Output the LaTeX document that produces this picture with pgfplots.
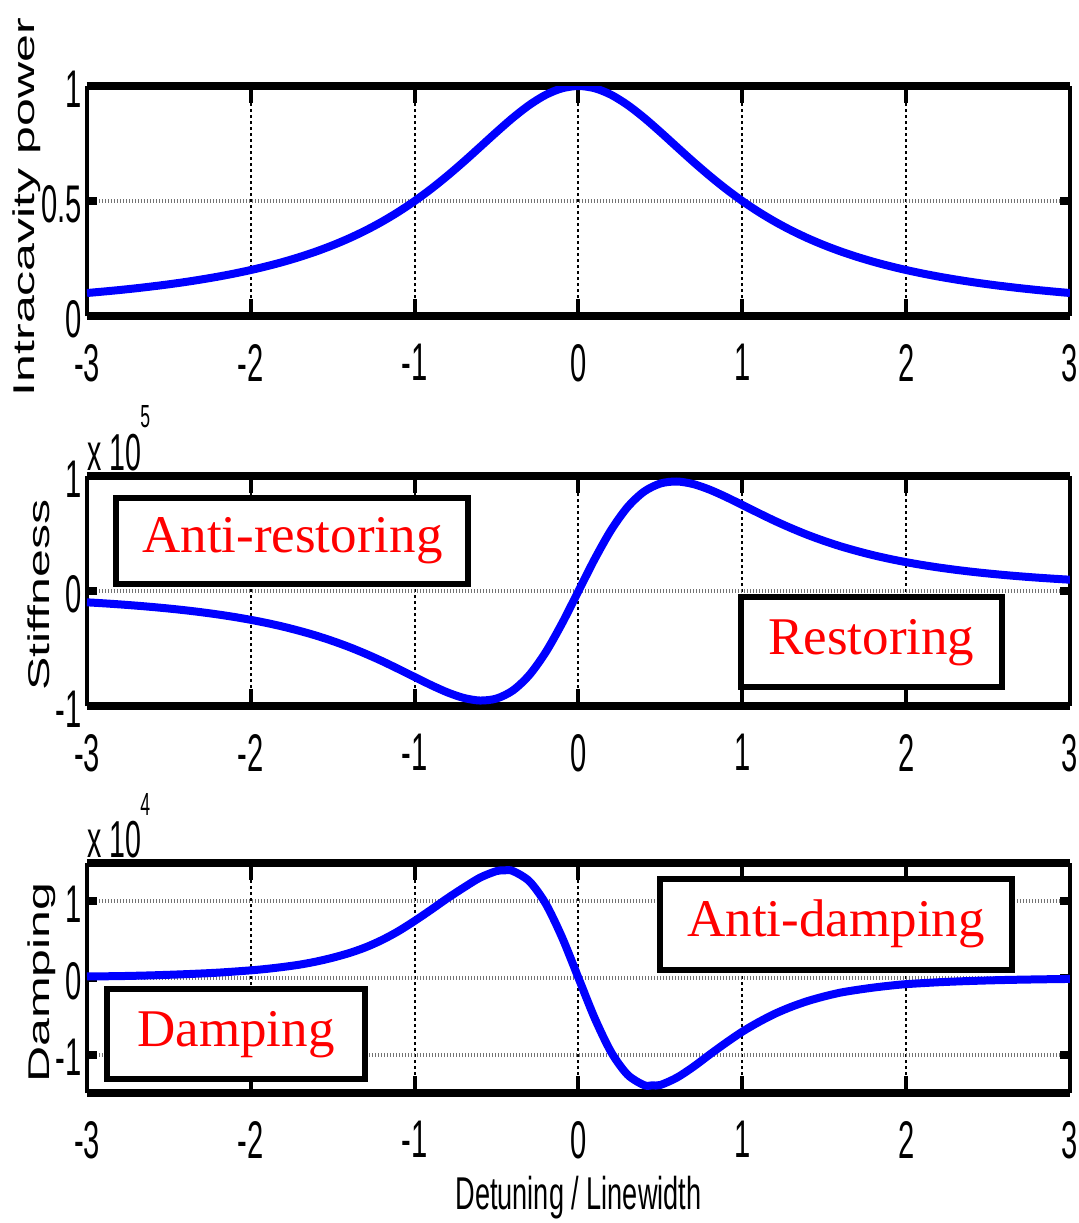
\documentclass[border=0pt]{standalone}
\usepackage{fontspec}
\setmainfont{Liberation Sans}
\usepackage{pgfplots}
\pgfplotsset{compat=1.18}
\newfontfamily\tickfont[FakeStretch=0.55]{Liberation Sans}
\newfontfamily\ylabfont[FakeStretch=1.67]{Liberation Sans}
\newfontfamily\xlabfont[FakeStretch=0.59]{Liberation Sans}
\newfontfamily\boxfont{Liberation Serif}
\definecolor{pureblue}{RGB}{0,0,255}
\definecolor{purered}{RGB}{255,0,0}

\pgfplotsset{
  myaxis/.style={
    scale only axis, width=491.5pt, height=115pt,
    xmin=-3, xmax=3,
    xtick={-3,-2,-1,0,1,2,3}, xticklabels={-3,-2,-1,0,1,2,3},
    separate axis lines,
    x axis line style={line width=4pt},
    y axis line style={line width=2pt},
    tick align=inside, xtick pos=both, ytick pos=both,
    major tick length=5pt,
    xtick style={line width=2pt, black, /pgfplots/major tick length=8.5pt},
    ytick style={line width=4pt, black},
    xmajorgrids, ymajorgrids,
    x grid style={black, line width=1pt, dash pattern=on 1.5pt off 1.5pt},
    y grid style={black!55, line width=2pt, dash pattern=on 0.6pt off 0.9pt},
    xticklabel style={font=\tickfont\fontsize{26.5}{26.5}\selectfont, anchor=north, inner sep=0pt, yshift=-14pt},
    yticklabel style={font=\tickfont\fontsize{26.5}{26.5}\selectfont, anchor=east, inner sep=0pt, xshift=-2.5pt, yshift=-1.5pt},
  },
  curve/.style={pureblue, line width=4pt, mark=none, smooth, line join=round},
}
\tikzset{
  tbox/.style={draw=black, line width=3pt, fill=white, text=purered, inner sep=0pt,
    font=\boxfont\fontsize{26.5}{26.5}\selectfont},
}

\begin{document}
\begin{tikzpicture}
\useasboundingbox (-43.5pt,43pt) rectangle (496pt,-568.5pt);

% ---------- Intracavity power ----------
\begin{axis}[myaxis, name=ax1, at={(0,0)}, anchor=north west,
  ymin=0, ymax=1, ytick={0,0.5,1}, yticklabels={0,0.5,1}]
\addplot[curve] coordinates {
(-3,0.1)(-2.9,0.1063)(-2.8,0.1131)(-2.7,0.1206)(-2.6,0.1289)(-2.5,0.1379)(-2.4,0.1479)(-2.3,0.1590)(-2.2,0.1712)(-2.1,0.1848)
(-2,0.2)(-1.9,0.2169)(-1.8,0.2358)(-1.7,0.2571)(-1.6,0.2809)(-1.5,0.3077)(-1.4,0.3378)(-1.3,0.3717)(-1.2,0.4098)(-1.1,0.4525)
(-1,0.5)(-0.9,0.5525)(-0.8,0.6098)(-0.7,0.6711)(-0.6,0.7353)(-0.5,0.8)(-0.4,0.8621)(-0.3,0.9174)(-0.2,0.9615)(-0.1,0.9901)
(0,1)
(0.1,0.9901)(0.2,0.9615)(0.3,0.9174)(0.4,0.8621)(0.5,0.8)(0.6,0.7353)(0.7,0.6711)(0.8,0.6098)(0.9,0.5525)(1,0.5)
(1.1,0.4525)(1.2,0.4098)(1.3,0.3717)(1.4,0.3378)(1.5,0.3077)(1.6,0.2809)(1.7,0.2571)(1.8,0.2358)(1.9,0.2169)(2,0.2)
(2.1,0.1848)(2.2,0.1712)(2.3,0.1590)(2.4,0.1479)(2.5,0.1379)(2.6,0.1289)(2.7,0.1206)(2.8,0.1131)(2.9,0.1063)(3,0.1)
};
\end{axis}

% ---------- Stiffness ----------
\begin{axis}[myaxis, name=ax2, at={(0,-195pt)}, anchor=north west,
  ymin=-1, ymax=1, ytick={-1,0,1}, yticklabels={-1,0,1}]
\addplot[curve] coordinates {
(-3,-0.0983)(-2.9,-0.1069)(-2.8,-0.1164)(-2.7,-0.1271)(-2.6,-0.1391)(-2.5,-0.1525)(-2.4,-0.1676)(-2.3,-0.1848)(-2.2,-0.2041)(-2.1,-0.2260)
(-2,-0.2508)(-1.9,-0.2790)(-1.8,-0.3110)(-1.7,-0.3476)(-1.6,-0.3884)(-1.5,-0.4351)(-1.4,-0.4870)(-1.3,-0.5454)(-1.2,-0.6087)(-1.1,-0.6774)
(-1,-0.7481)(-0.9,-0.8181)(-0.8,-0.8815)(-0.7,-0.9300)(-0.6,-0.9523)(-0.5,-0.9348)(-0.4,-0.8643)(-0.3,-0.7304)(-0.2,-0.5322)(-0.1,-0.2808)
(0,0)
(0.1,0.2808)(0.2,0.5322)(0.3,0.7304)(0.4,0.8643)(0.5,0.9348)(0.6,0.9523)(0.7,0.9300)(0.8,0.8815)(0.9,0.8181)(1,0.7481)
(1.1,0.6774)(1.2,0.6087)(1.3,0.5454)(1.4,0.4870)(1.5,0.4351)(1.6,0.3884)(1.7,0.3476)(1.8,0.3110)(1.9,0.2790)(2,0.2508)
(2.1,0.2260)(2.2,0.2041)(2.3,0.1848)(2.4,0.1676)(2.5,0.1525)(2.6,0.1391)(2.7,0.1271)(2.8,0.1164)(2.9,0.1069)(3,0.0983)
};
\coordinate (ar) at (axis cs:-1.746,0.434);
\coordinate (re) at (axis cs:1.788,-0.447);
\end{axis}

% ---------- Damping ----------
\begin{axis}[myaxis, name=ax3, at={(0,-388.5pt)}, anchor=north west,
  ymin=-1.5, ymax=1.5, ytick={-1,0,1}, yticklabels={-1,0,1}]
\addplot[curve] coordinates {
(-3,0.02)(-2.8,0.025)(-2.6,0.035)(-2.4,0.05)(-2.2,0.07)(-2,0.10)(-1.9,0.12)(-1.8,0.145)(-1.7,0.175)(-1.6,0.215)
(-1.5,0.265)(-1.4,0.325)(-1.3,0.40)(-1.2,0.495)(-1.1,0.61)(-1,0.745)(-0.9,0.89)(-0.8,1.04)(-0.7,1.18)(-0.6,1.31)
(-0.5,1.395)(-0.45,1.405)(-0.4,1.395)(-0.3,1.262)(-0.2,0.969)(-0.1,0.529)(0,0)
(0.1,-0.529)(0.2,-0.969)(0.3,-1.262)(0.4,-1.397)(0.45,-1.40)(0.5,-1.395)(0.6,-1.30)(0.7,-1.16)(0.8,-1.00)(0.9,-0.845)
(1,-0.70)(1.1,-0.575)(1.2,-0.465)(1.3,-0.375)(1.4,-0.30)(1.5,-0.24)(1.6,-0.19)(1.7,-0.155)(1.8,-0.125)(1.9,-0.10)
(2,-0.08)(2.2,-0.055)(2.4,-0.038)(2.6,-0.026)(2.8,-0.018)(3,-0.012)
};
\coordinate (dm) at (axis cs:-2.091,-0.734);
\coordinate (ad) at (axis cs:1.572,0.701);
\end{axis}

% text boxes
\node[tbox, minimum width=176pt, minimum height=43pt] at (ar) {Anti-restoring};
\node[tbox, minimum width=130.5pt, minimum height=45pt] at (re) {Restoring};
\node[tbox, minimum width=129pt, minimum height=45pt] at (dm) {Damping};
\node[tbox, minimum width=176pt, minimum height=45.5pt] at (ad) {Anti-damping};

% y labels
\node[rotate=90, anchor=base, inner sep=0pt, font=\ylabfont\fontsize{15}{15}\selectfont] at ([xshift=-26pt, yshift=-3pt]ax1.west) {Intracavity power};
\node[rotate=90, anchor=base, inner sep=0pt, font=\ylabfont\fontsize{15}{15}\selectfont] at ([xshift=-18.5pt, yshift=-2pt]ax2.west) {Stiffness};
\node[rotate=90, anchor=base, inner sep=0pt, font=\ylabfont\fontsize{15}{15}\selectfont] at ([xshift=-18.5pt, yshift=-2.25pt]ax3.west) {Damping};

% exponents
\node[anchor=base west, inner sep=0pt, font=\tickfont\fontsize{26}{26}\selectfont] at ([yshift=3pt]ax2.north west) {x 10};
\node[anchor=base west, inner sep=0pt, font=\tickfont\fontsize{16}{16}\selectfont] at ([xshift=26.5pt, yshift=24.5pt]ax2.north west) {5};
\node[anchor=base west, inner sep=0pt, font=\tickfont\fontsize{26}{26}\selectfont] at ([yshift=3pt]ax3.north west) {x 10};
\node[anchor=base west, inner sep=0pt, font=\tickfont\fontsize{16}{16}\selectfont] at ([xshift=26.5pt, yshift=24pt]ax3.north west) {4};

% x label
\node[anchor=base, inner sep=0pt, font=\xlabfont\fontsize{23}{23}\selectfont] at ([yshift=-58pt]ax3.south) {Detuning / Linewidth};
\end{tikzpicture}
\end{document}
